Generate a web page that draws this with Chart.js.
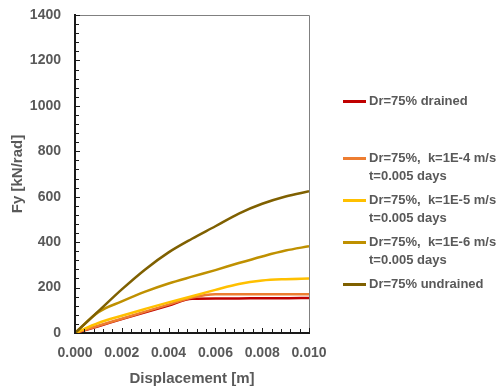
<!DOCTYPE html>
<html lang="en">
<head>
    <meta charset="UTF-8">
    <title>Fy vs displacement</title>
    <script src="https://cdn.jsdelivr.net/npm/chart.js@4"></script>
    <style>
        body { margin: 0; background: #fff; }
        #wrap { position: relative; width: 504px; height: 389px; }
        #legend { position: absolute; left: 343px; top: 92px; font: bold 13px "Liberation Sans", Arial, sans-serif; color: #595959; white-space: pre; }
        .item { position: relative; padding-left: 26px; line-height: 18px; }
        .item .swatch { position: absolute; left: 0; top: 8px; width: 23px; height: 3px; }
    </style>
</head>
<body>
<div id="wrap">
    <canvas id="fyChart" width="504" height="389"></canvas>
    <div id="legend"></div>
</div>
<script>
  // displacement [m]
  const displacement = [0, 0.001, 0.002, 0.003, 0.004, 0.005, 0.006, 0.007, 0.008, 0.009, 0.010];

  // Fy [kN/rad]
  const drained   = [0, 30, 61, 91, 121, 151, 152, 152, 153, 153, 154];
  const k1e4      = [0, 32, 63, 94, 125, 156, 171, 171, 171, 171, 171];
  const k1e5      = [0, 44, 76, 106, 135, 162, 190, 216, 231, 237, 240];
  const k1e6      = [0, 92, 139, 182, 218, 248, 277, 308, 337, 363, 382];
  const undrained = [0, 96, 192, 280, 355, 415, 470, 526, 569, 601, 624];

  const seriesLabels = [
    ['Dr=75% drained'],
    ['Dr=75%,  k=1E-4 m/s', 't=0.005 days'],
    ['Dr=75%,  k=1E-5 m/s', 't=0.005 days'],
    ['Dr=75%,  k=1E-6 m/s', 't=0.005 days'],
    ['Dr=75% undrained']
  ];
  const seriesValues = [drained, k1e4, k1e5, k1e6, undrained];
  const seriesColors = ['#c00000', '#ed7d31', '#ffc000', '#bf9000', '#7f6000'];

  const xTicks = [0, 0.002, 0.004, 0.006, 0.008, 0.010];
  const yTicks = [0, 200, 400, 600, 800, 1000, 1200, 1400];

  const textColor = '#595959';
  const fontFamily = '"Liberation Sans", Arial, sans-serif';

  const datasets = seriesValues.map((vals, i) => ({
    label: seriesLabels[i].join(' '),
    data: vals.map((v, j) => ({ x: displacement[j], y: v })),
    borderColor: seriesColors[i],
    backgroundColor: seriesColors[i],
    borderWidth: 2.5,
    pointRadius: 0,
    cubicInterpolationMode: 'monotone',
    order: seriesValues.length - i
  }));

  // inward tick marks + grey top/right frame, like the original plot
  const frameTicks = {
    id: 'frameTicks',
    afterDatasetsDraw(chart) {
      const { ctx, chartArea: a, scales: { x, y } } = chart;
      ctx.save();
      ctx.strokeStyle = '#808080';
      ctx.lineWidth = 1;
      ctx.beginPath();
      ctx.moveTo(a.left, a.top + 0.5);
      ctx.lineTo(a.right + 0.5, a.top + 0.5);
      ctx.lineTo(a.right + 0.5, a.bottom);
      ctx.stroke();

      ctx.strokeStyle = '#1a1a1a';
      ctx.lineWidth = 1;
      ctx.beginPath();
      for (let i = 0; i <= 35; i++) {
        const py = Math.round(y.getPixelForValue(i * 40)) + 0.5;
        const len = i % 5 === 0 ? 5 : 4;
        ctx.moveTo(a.left, py);
        ctx.lineTo(a.left + len, py);
      }
      for (let i = 0; i <= 25; i++) {
        const px = Math.round(x.getPixelForValue(i * 0.0004)) + 0.5;
        const len = i % 5 === 0 ? 5 : 4;
        ctx.moveTo(px, a.bottom);
        ctx.lineTo(px, a.bottom - len);
      }
      ctx.stroke();
      ctx.restore();
    }
  };

  const ctx = document.getElementById('fyChart').getContext('2d');
  new Chart(ctx, {
    type: 'line',
    data: { datasets: datasets },
    options: {
      responsive: false,
      animation: false,
      layout: { padding: { left: 0, right: 195, top: 0, bottom: 0 } },
      plugins: { legend: { display: false }, tooltip: { enabled: false } },
      scales: {
        x: {
          type: 'linear',
          min: 0,
          max: 0.01,
          afterBuildTicks: s => { s.ticks = xTicks.map(v => ({ value: v })); },
          afterFit: s => { s.height = 56; },
          ticks: {
            color: textColor,
            font: { family: fontFamily, size: 14, weight: 'bold' },
            padding: 12,
            maxRotation: 0,
            callback: v => v.toFixed(3)
          },
          grid: { display: false, drawTicks: false },
          border: { display: true, color: '#1a1a1a', width: 2 },
          title: {
            display: true,
            text: 'Displacement [m]',
            color: textColor,
            font: { family: fontFamily, size: 15, weight: 'bold' },
            padding: { top: 0, bottom: 1 }
          }
        },
        y: {
          min: 0,
          max: 1400,
          afterBuildTicks: s => { s.ticks = yTicks.map(v => ({ value: v })); },
          afterFit: s => { s.width = 75; s.paddingTop = 15; s.paddingBottom = 0; },
          ticks: {
            color: textColor,
            font: { family: fontFamily, size: 14, weight: 'bold' },
            padding: 14,
            callback: v => String(v)
          },
          grid: { display: false, drawTicks: false },
          border: { display: true, color: '#1a1a1a', width: 2 },
          title: {
            display: true,
            text: 'Fy [kN/rad]',
            color: textColor,
            font: { family: fontFamily, size: 15, weight: 'bold' },
            padding: { top: 9, bottom: 0 }
          }
        }
      }
    },
    plugins: [frameTicks]
  });

  // legend as html, multi-line labels
  const legend = document.getElementById('legend');
  seriesLabels.forEach((lines, i) => {
    const item = document.createElement('div');
    item.className = 'item';
    item.style.marginBottom = i === 0 ? '39px' : '6px';
    const sw = document.createElement('span');
    sw.className = 'swatch';
    sw.style.background = seriesColors[i];
    item.appendChild(sw);
    lines.forEach(t => {
      const d = document.createElement('div');
      d.textContent = t;
      item.appendChild(d);
    });
    legend.appendChild(item);
  });
</script>
</body>
</html>
